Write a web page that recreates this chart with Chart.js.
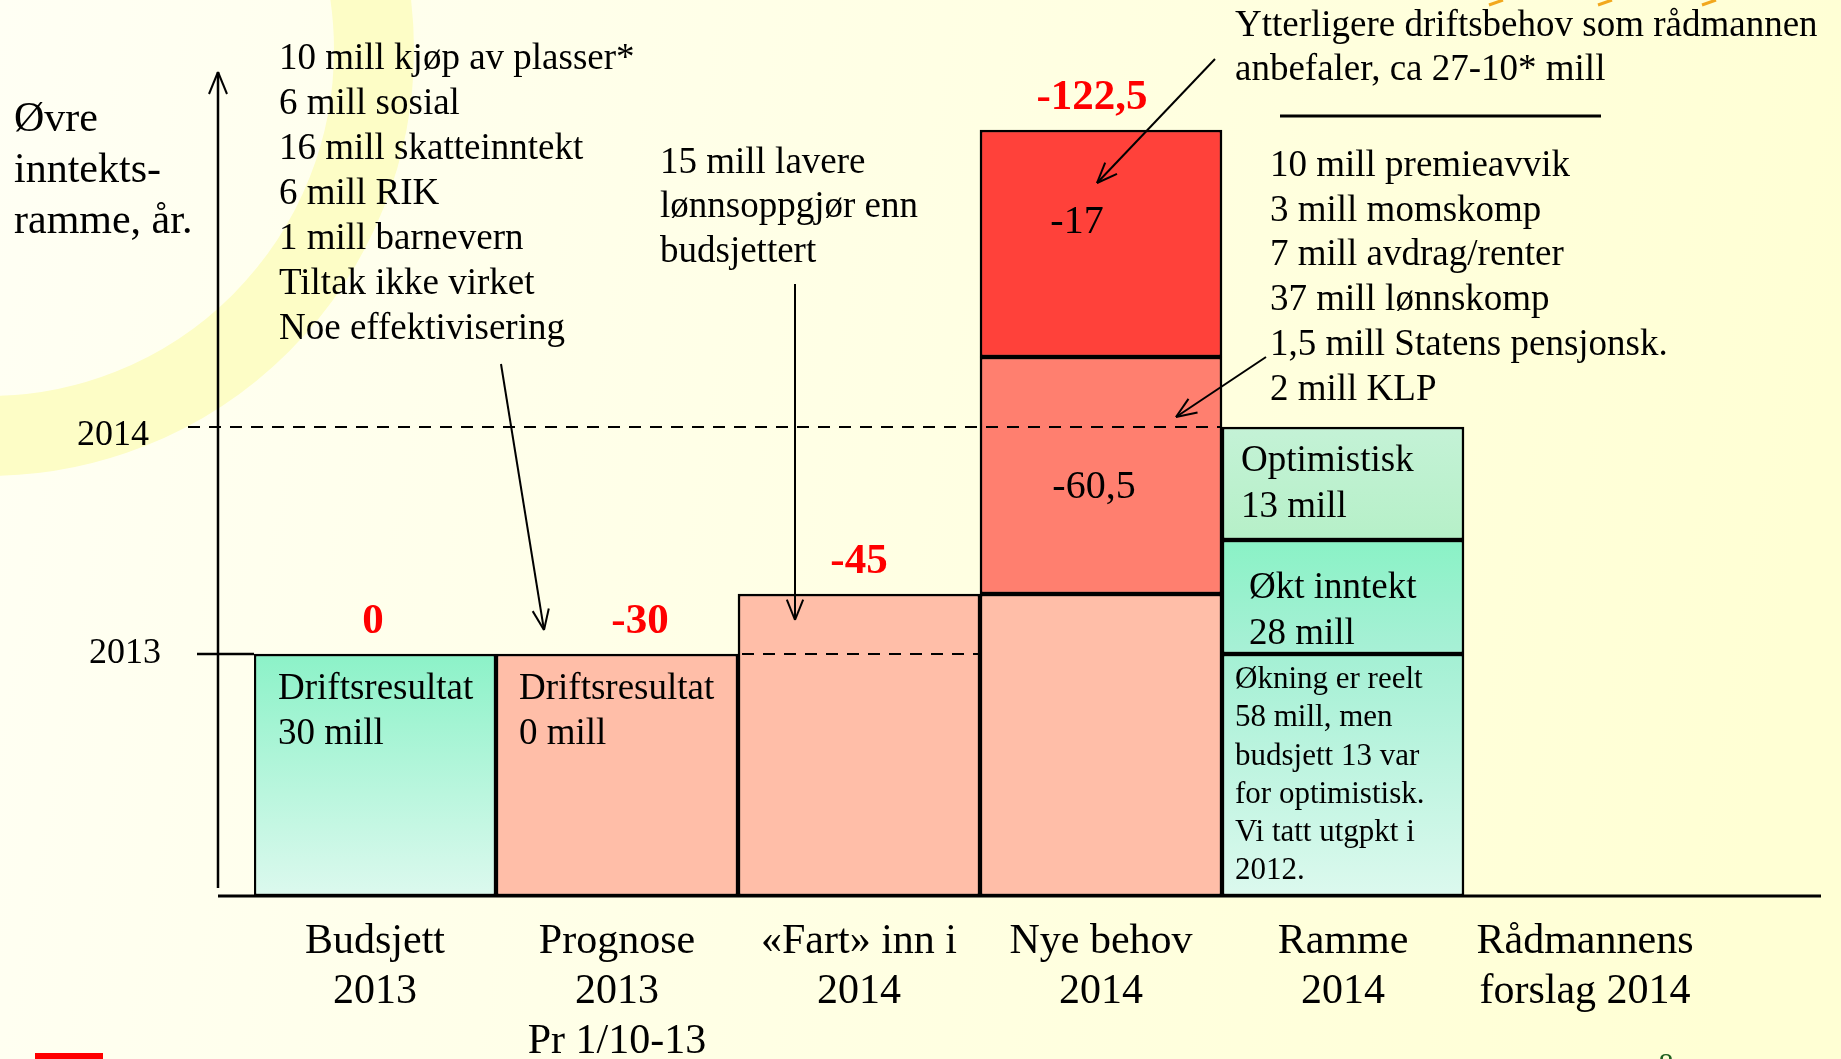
<!DOCTYPE html>
<html>
<head>
<meta charset="utf-8">
<script src="https://cdn.jsdelivr.net/npm/chart.js@4.4.0/dist/chart.umd.min.js"></script>
<style>
  html, body { margin: 0; padding: 0; background: #fffff0; }
  #wrap { width: 1841px; height: 1059px; }
</style>
</head>
<body>
<div id="wrap"><canvas id="chart" width="1841" height="1059"></canvas></div>
<script>
// Data (schematic units)
const categories = [
    ['Budsjett', '2013'],
    ['Prognose', '2013', 'Pr 1/10-13'],
    ['«Fart» inn i', '2014'],
    ['Nye behov', '2014'],
    ['Ramme', '2014'],
    ['Rådmannens', 'forslag 2014']
];
const level2013 = 60.5;
const level2014 = 117.25;
const baseEnd = [60.5, 60.5, 75.5, 75.5, 60.5, null];
const midEnd = [null, null, null, 134.75, 89, null];
const topEnd = [null, null, null, 191.5, 117.25, null];
const gapLabels = ['0', '-30', '-45', '-122,5', null, null];

// Texts
const yTitle = ['Øvre', 'inntekts-', 'ramme, år.'];
const leftNotes = ['10 mill kjøp av plasser*', '6 mill sosial', '16 mill skatteinntekt', '6 mill RIK', '1 mill barnevern', 'Tiltak ikke virket', 'Noe effektivisering'];
const midNotes = ['15 mill lavere', 'lønnsoppgjør enn', 'budsjettert'];
const topNotes = ['Ytterligere driftsbehov som rådmannen', 'anbefaler, ca 27-10* mill'];
const rightNotes = ['10 mill premieavvik', '3 mill momskomp', '7 mill avdrag/renter', '37 mill lønnskomp', '1,5 mill Statens pensjonsk.', '2 mill KLP'];
const okningNotes = ['Økning er reelt', '58 mill, men', 'budsjett 13 var', 'for optimistisk.', 'Vi tatt utgpkt i', '2012.'];

const SERIF = "'Liberation Serif', 'Times New Roman', serif";

const toRange = (ends, starts) => ends.map((e, i) => e == null ? null : [starts[i], e]);
const baseData = toRange(baseEnd, baseEnd.map(() => 0));
const midData = toRange(midEnd, baseEnd);
const topData = toRange(topEnd, midEnd);

const gradFill = (c, top, bottom) => {
    const chart = c.chart;
    if (!chart.chartArea || !c.raw) return top;
    const y = chart.scales.y;
    const g = chart.ctx.createLinearGradient(0, y.getPixelForValue(c.raw[1]), 0, y.getPixelForValue(c.raw[0]));
    g.addColorStop(0, top);
    g.addColorStop(1, bottom);
    return g;
};

const baseFill = (c) => {
    if (c.dataIndex === 0) return gradFill(c, '#8cf2c8', '#dcf9ee');
    if (c.dataIndex === 4) return gradFill(c, '#a4f0d4', '#dcf9ee');
    return '#ffbea8';
};
const midFill = (c) => c.dataIndex === 4 ? gradFill(c, '#8af2c6', '#a8f0d6') : '#ff7f6f';
const topFill = (c) => c.dataIndex === 4 ? gradFill(c, '#c4f2d6', '#b6f0c8') : '#ff413a';

const txt = (ctx, s, x, y, size, opts = {}) => {
    ctx.font = (opts.bold ? 'bold ' : '') + size + 'px ' + SERIF;
    ctx.fillStyle = opts.color || '#000';
    ctx.textAlign = opts.align || 'left';
    ctx.textBaseline = 'middle';
    ctx.fillText(s, x, y);
};

const line = (ctx, x1, y1, x2, y2, w, dash) => {
    ctx.save();
    ctx.strokeStyle = '#000';
    ctx.lineWidth = w;
    ctx.setLineDash(dash || []);
    ctx.beginPath();
    ctx.moveTo(x1, y1);
    ctx.lineTo(x2, y2);
    ctx.stroke();
    ctx.restore();
};

const arrow = (ctx, x1, y1, x2, y2) => {
    line(ctx, x1, y1, x2, y2, 2);
    const a = Math.atan2(y2 - y1, x2 - x1);
    const len = 22, spread = 0.38;
    line(ctx, x2, y2, x2 - len * Math.cos(a - spread), y2 - len * Math.sin(a - spread), 2);
    line(ctx, x2, y2, x2 - len * Math.cos(a + spread), y2 - len * Math.sin(a + spread), 2);
};

const decor = {
    id: 'decor',
    beforeDraw(chart) {
        const ctx = chart.ctx;
        const W = chart.width, H = chart.height;
        ctx.save();
        const bg = ctx.createLinearGradient(0, 0, W, H * 0.3);
        bg.addColorStop(0, '#fffff4');
        bg.addColorStop(1, '#ffffd4');
        ctx.fillStyle = bg;
        ctx.fillRect(0, 0, W, H);
        // pale yellow ring in upper left
        ctx.strokeStyle = '#fdfdc6';
        ctx.lineWidth = 80;
        ctx.beginPath();
        ctx.arc(-12, 50, 386, 0, Math.PI * 2);
        ctx.stroke();
        // little orange marks at the top edge
        ctx.strokeStyle = '#f2a81e';
        ctx.lineWidth = 3;
        [1497, 1606, 1710].forEach(x => {
            ctx.beginPath();
            ctx.moveTo(x - 8, 5);
            ctx.lineTo(x + 6, 0);
            ctx.stroke();
        });
        // red marker bottom-left, page number
        ctx.fillStyle = '#ff0000';
        ctx.fillRect(35, 1053, 68, 6);
        ctx.font = '30px ' + SERIF;
        ctx.fillStyle = '#1f5f1f';
        ctx.textAlign = 'center';
        ctx.textBaseline = 'top';
        ctx.fillText('8', 1666, 1050);
        ctx.restore();
    },
    afterDatasetsDraw(chart) {
        const ctx = chart.ctx;
        const area = chart.chartArea;
        const ys = chart.scales.y;
        const bars = chart.getDatasetMeta(0).data;
        const mids = chart.getDatasetMeta(1).data;
        const tops = chart.getDatasetMeta(2).data;
        const left = (b) => b.x - b.width / 2;
        const right = (b) => b.x + b.width / 2;
        const y13 = ys.getPixelForValue(level2013);
        const y14 = ys.getPixelForValue(level2014);
        const axisX = 218;

        // axes
        line(ctx, axisX, area.bottom, 1821, area.bottom, 3);
        line(ctx, axisX, area.bottom - 8, axisX, area.top, 2.5);
        line(ctx, axisX, area.top, axisX - 9, area.top + 22, 2);
        line(ctx, axisX, area.top, axisX + 9, area.top + 22, 2);

        // level lines
        line(ctx, axisX - 21, y13, left(bars[0]), y13, 2.5);
        line(ctx, left(bars[2]) + 4, y13, right(bars[2]), y13, 2, [12, 9]);
        line(ctx, axisX - 30, y14, right(bars[3]), y14, 2, [12, 9]);
        txt(ctx, '2014', axisX - 69, y14 + 9, 36, { align: 'right' });
        txt(ctx, '2013', axisX - 57, y13, 36, { align: 'right' });

        // y title
        yTitle.forEach((s, i) => txt(ctx, s, 14, 120 + i * 51, 42));

        // red gap labels
        const dx = [-2, 23, 0, -9];
        gapLabels.forEach((s, i) => {
            if (!s) return;
            const topEl = topEnd[i] != null ? tops[i] : bars[i];
            txt(ctx, s, bars[i].x + dx[i], topEl.y - 32, 43, { bold: true, color: '#ff0000', align: 'center' });
        });

        // texts in boxes
        txt(ctx, 'Driftsresultat', 278, bars[0].y + 35, 37);
        txt(ctx, '30 mill', 278, bars[0].y + 80, 37);
        txt(ctx, 'Driftsresultat', 519, bars[1].y + 35, 37);
        txt(ctx, '0 mill', 519, bars[1].y + 80, 37);
        txt(ctx, '-17', tops[3].x - 24, tops[3].y + 92, 40, { align: 'center' });
        txt(ctx, '-60,5', mids[3].x - 7, (mids[3].y + mids[3].base) / 2 + 12, 40, { align: 'center' });
        txt(ctx, 'Optimistisk', left(tops[4]) + 19, tops[4].y + 34, 37);
        txt(ctx, '13 mill', left(tops[4]) + 19, tops[4].y + 80, 37);
        txt(ctx, 'Økt inntekt', left(mids[4]) + 27, mids[4].y + 48, 37);
        txt(ctx, '28 mill', left(mids[4]) + 27, mids[4].y + 94, 37);
        okningNotes.forEach((s, i) => txt(ctx, s, left(bars[4]) + 13, bars[4].y + 26 + i * 38.2, 31));

        // free notes
        leftNotes.forEach((s, i) => txt(ctx, s, 279, 59 + i * 45, 37));
        midNotes.forEach((s, i) => txt(ctx, s, 660, 163 + i * 44.5, 37));
        topNotes.forEach((s, i) => txt(ctx, s, 1235, 26 + i * 44, 37));
        line(ctx, 1280, 116, 1601, 116, 3);
        rightNotes.forEach((s, i) => txt(ctx, s, 1270, 166 + i * 44.8, 37));

        // arrows
        arrow(ctx, 501, 364, 544, 630);
        arrow(ctx, 795, 284, 795, 620);
        arrow(ctx, 1215, 59, 1097, 183);
        arrow(ctx, 1266, 357, 1176, 417);
    }
};

Chart.defaults.font.family = SERIF;
Chart.defaults.color = '#000';

const barStyle = { borderColor: '#000', borderWidth: 2.5, borderSkipped: false, grouped: false, barPercentage: 1, categoryPercentage: 1 };

new Chart(document.getElementById('chart'), {
    type: 'bar',
    data: {
        labels: categories,
        datasets: [
            Object.assign({ label: 'base', data: baseData, backgroundColor: baseFill }, barStyle),
            Object.assign({ label: 'midt', data: midData, backgroundColor: midFill }, barStyle),
            Object.assign({ label: 'topp', data: topData, backgroundColor: topFill }, barStyle)
        ]
    },
    options: {
        responsive: false,
        animation: false,
        devicePixelRatio: 1,
        layout: { padding: { left: 254, right: 135, top: 72, bottom: 0 } },
        scales: {
            x: {
                grid: { display: false, drawTicks: false },
                border: { display: false },
                ticks: { autoSkip: false, maxRotation: 0, padding: 21, color: '#000', font: { family: SERIF, size: 42, lineHeight: 1.19 } },
                afterFit: (s) => { s.height = 163; }
            },
            y: { display: false, min: 0, max: 206 }
        },
        plugins: { legend: { display: false }, tooltip: { enabled: false } }
    },
    plugins: [decor]
});
</script>
</body>
</html>
